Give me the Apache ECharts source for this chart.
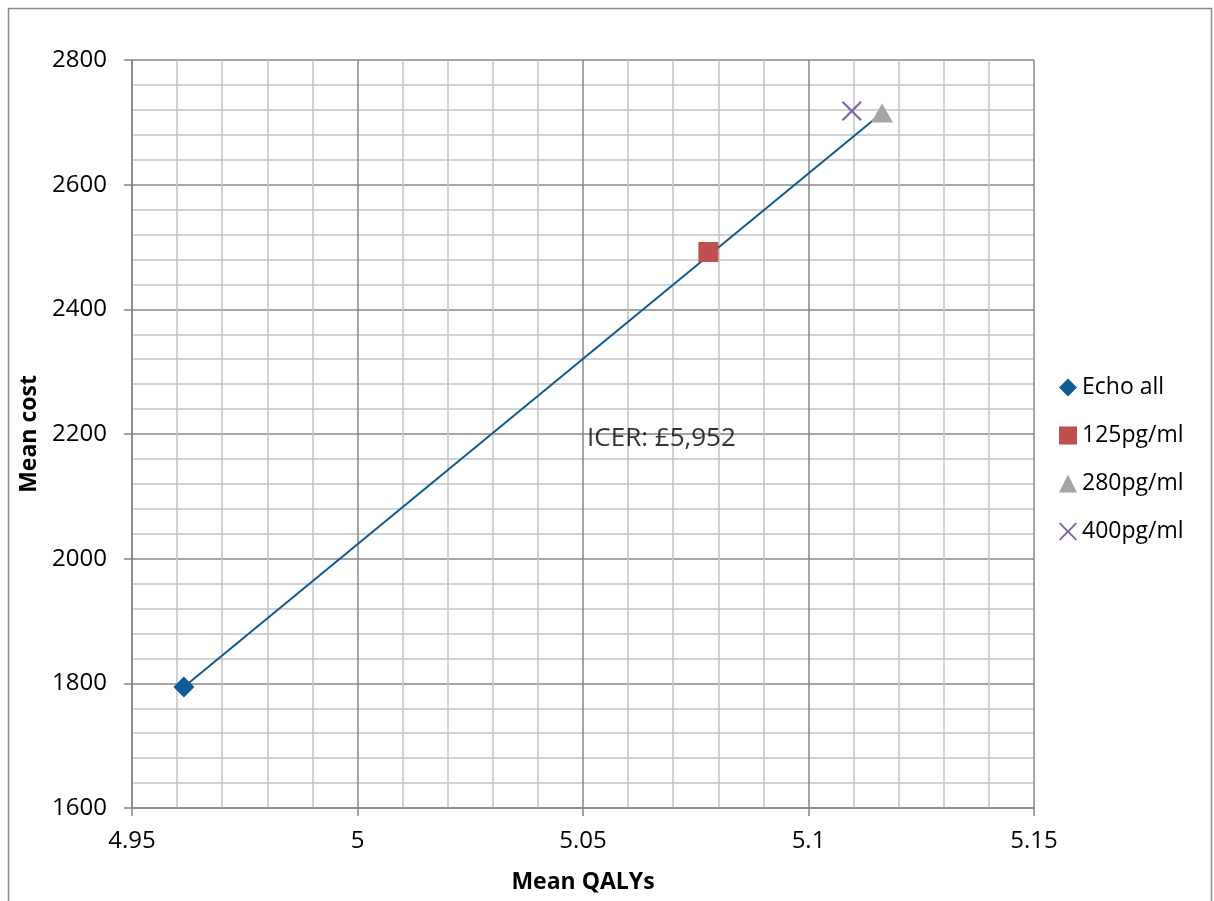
<!DOCTYPE html>
<html>
<head>
<meta charset="utf-8">
<script src="https://cdn.jsdelivr.net/npm/echarts@6/dist/echarts.min.js"></script>
<style>
html,body{margin:0;padding:0;background:#fff;overflow:hidden;}
#chart{width:1214px;height:901px;}
</style>
</head>
<body>
<div id="chart"></div>
<script>
// Data
const seriesNames = ['Echo all', '125pg/ml', '280pg/ml', '400pg/ml'];
const qalys = [4.9615, 5.0778, 5.1163, 5.1096];
const costs = [1794, 2492, 2715, 2718];
// ICER line connects Echo all to 280pg/ml
const lineIdx = [0, 2];
const icerText = 'ICER: £5,952';
const icerPos = [5.0509, 2192];
const xTicks = [4.95, 5, 5.05, 5.1, 5.15];
const yTicks = [1600, 1800, 2000, 2200, 2400, 2600, 2800];

const colors = ['#0e5a92', '#c0504d', '#a5a5a5', '#8064a2'];
const symbols = ['diamond', 'rect', 'triangle',
  'path://M0,1.5L1.5,0L10,8.5L18.5,0L20,1.5L11.5,10L20,18.5L18.5,20L10,11.5L1.5,20L0,18.5L8.5,10Z'];
const sizes = [21, 20, [22, 19], 20];

const FONT = '"Open Sans", "Liberation Sans", sans-serif';
const chart = echarts.init(document.getElementById('chart'), null, {renderer: 'canvas', width: 1214, height: 901});

const series = seriesNames.map((n, i) => ({
  name: n,
  type: 'scatter',
  data: [[qalys[i], costs[i]]],
  symbol: symbols[i],
  symbolSize: sizes[i],
  itemStyle: {color: colors[i], opacity: 1},
  z: 5
}));
series.unshift({
  name: 'icerLine',
  type: 'line',
  data: lineIdx.map(i => [qalys[i], costs[i]]),
  symbol: 'none',
  lineStyle: {color: colors[0], width: 2},
  silent: true,
  z: 3
});
series.push({
  name: 'icerLabel',
  type: 'scatter',
  data: [icerPos],
  symbolSize: 0,
  silent: true,
  label: {
    show: true,
    position: 'right',
    distance: 0,
    formatter: icerText,
    color: '#000',
    fontSize: 26,
    fontFamily: FONT
  }
});

const axisCommon = {
  axisLine: {show: true, lineStyle: {color: '#868686', width: 1.5}},
  axisTick: {show: true, inside: false, length: 8, lineStyle: {color: '#868686', width: 1.5}},
  splitLine: {show: true, lineStyle: {color: '#878787', width: 1.5}},
  minorTick: {show: false, splitNumber: 5},
  minorSplitLine: {show: true, lineStyle: {color: '#c3c3c3', width: 1.5}},
  nameTextStyle: {color: '#000', fontSize: 23, fontWeight: 'bold', fontFamily: FONT}
};

chart.setOption({
  animation: false,
  backgroundColor: '#fff',
  color: colors,
  grid: {left: 132, top: 60, right: 180, bottom: 93, containLabel: false, outerBoundsMode: 'none'},
  xAxis: Object.assign({}, axisCommon, {
    type: 'value',
    min: xTicks[0],
    max: xTicks[xTicks.length - 1],
    interval: 0.05,
    name: 'Mean QALYs',
    nameLocation: 'middle',
    nameGap: 63,
    axisLabel: {color: '#000', fontSize: 24, fontFamily: FONT, margin: 21,
      formatter: v => String(+v.toFixed(2))}
  }),
  yAxis: Object.assign({}, axisCommon, {
    type: 'value',
    min: yTicks[0],
    max: yTicks[yTicks.length - 1],
    interval: 200,
    name: 'Mean cost',
    nameLocation: 'middle',
    nameGap: 86,
    nameRotate: 90,
    axisLabel: {color: '#000', fontSize: 24, fontFamily: FONT, margin: 25,
      formatter: v => String(v)}
  }),
  legend: {
    data: seriesNames,
    orient: 'vertical',
    left: 1054,
    top: 371,
    itemGap: 25,
    itemWidth: 18,
    itemHeight: 18,
    textStyle: {color: '#000', fontSize: 23, fontFamily: FONT}
  },
  graphic: [{
    type: 'rect',
    shape: {x: 8.5, y: 8.5, width: 1203, height: 1000},
    style: {fill: 'none', stroke: '#8a8a8a', lineWidth: 1.5},
    silent: true,
    z: -10
  }],
  series: series
});
</script>
</body>
</html>
